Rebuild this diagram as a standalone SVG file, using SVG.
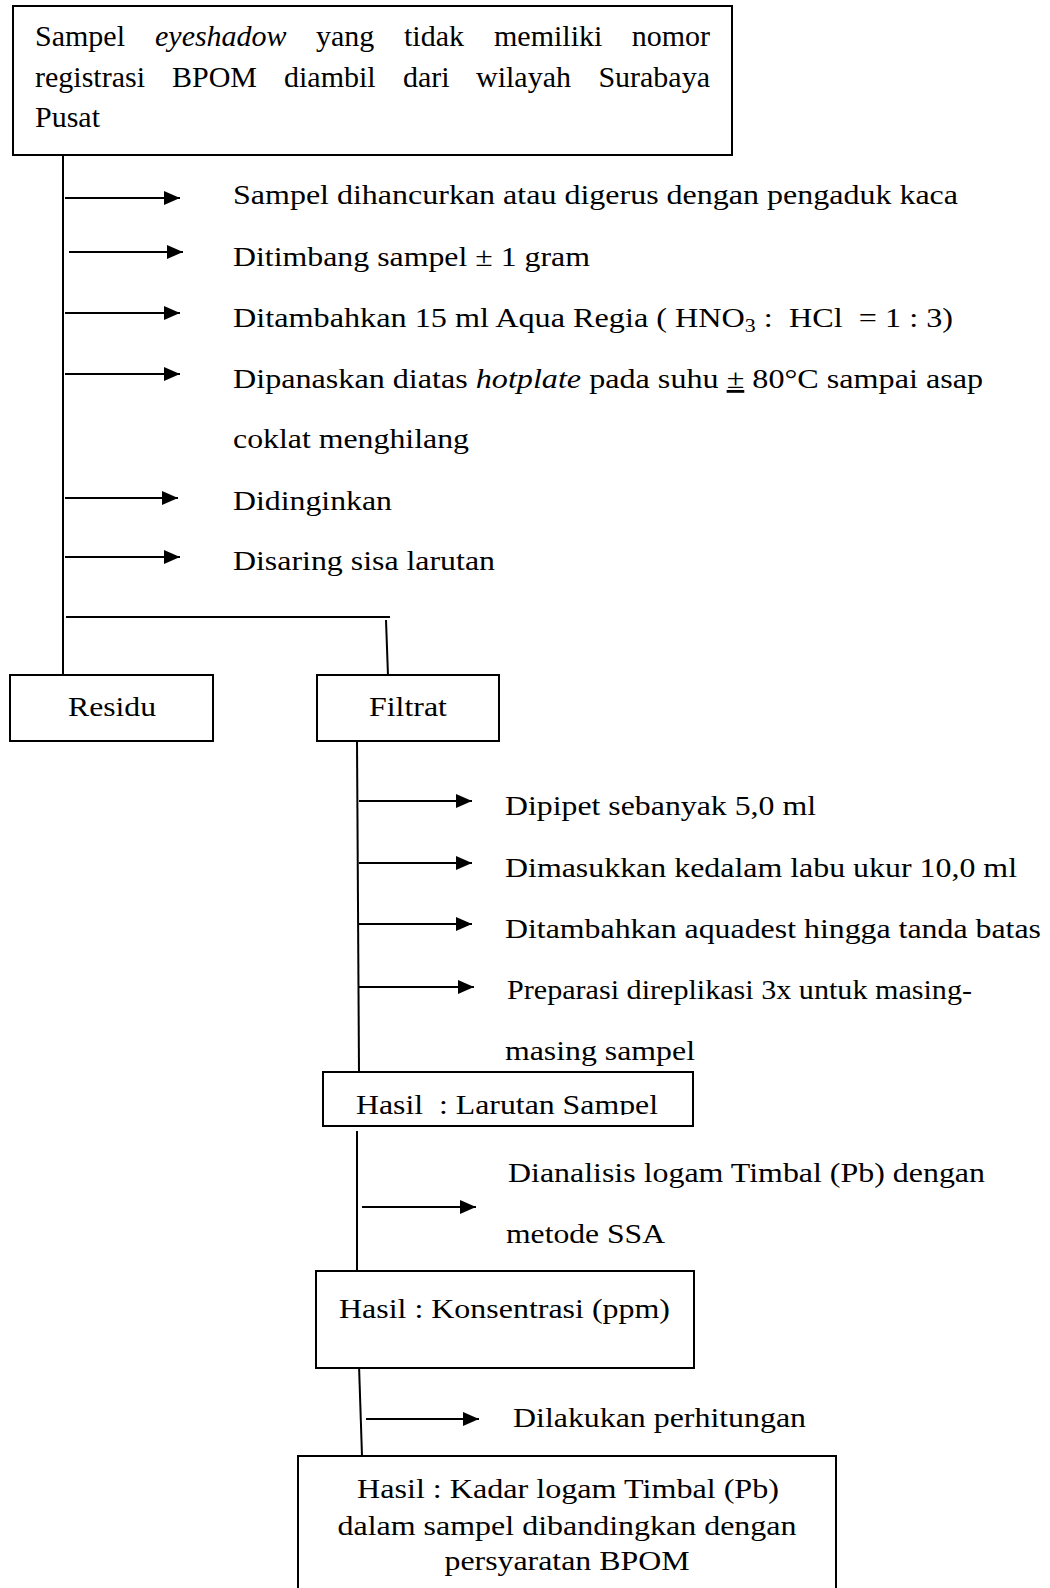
<svg xmlns="http://www.w3.org/2000/svg" width="1050" height="1588" viewBox="0 0 1050 1588">
<style>
.box{fill:#fff;stroke:#000;stroke-width:2}
.ln{fill:none;stroke:#000;stroke-width:2}
.arr{fill:none;stroke:#000;stroke-width:2;marker-end:url(#ah)}
text{font-family:"Liberation Serif","Times New Roman",serif;font-size:28px;fill:#000}
.tb{font-size:30px}
.mid{text-anchor:middle}
.end{text-anchor:end}
.it{font-style:italic}
</style>
<defs>
<marker id="ah" markerUnits="userSpaceOnUse" markerWidth="16" markerHeight="14" refX="16" refY="7" orient="auto">
<path d="M0,0 L16,7 L0,14 z" fill="#000"/>
</marker>
<clipPath id="clipLar"><rect x="320" y="1070" width="380" height="45"/></clipPath>
</defs>
<rect width="1050" height="1588" fill="#fff"/>

<g id="connectors">
<line class="ln" x1="63" y1="155" x2="63" y2="675"/>
<line class="arr" x1="65" y1="198" x2="180" y2="198"/>
<line class="arr" x1="69" y1="252" x2="183" y2="252"/>
<line class="arr" x1="65" y1="313" x2="180" y2="313"/>
<line class="arr" x1="65" y1="374" x2="180" y2="374"/>
<line class="arr" x1="65" y1="498" x2="178" y2="498"/>
<line class="arr" x1="65" y1="557" x2="180" y2="557"/>
<line class="ln" x1="66" y1="617" x2="390" y2="617"/>
<line class="ln" x1="386" y1="620" x2="388" y2="676"/>
<line class="ln" x1="357" y1="741" x2="359" y2="1072"/>
<line class="arr" x1="359" y1="801" x2="472" y2="801"/>
<line class="arr" x1="359" y1="863" x2="472" y2="863"/>
<line class="arr" x1="359" y1="924" x2="472" y2="924"/>
<line class="arr" x1="359" y1="987" x2="474" y2="987"/>
<line class="ln" x1="357" y1="1131" x2="357" y2="1271"/>
<line class="arr" x1="362" y1="1207" x2="476" y2="1207"/>
<line class="ln" x1="359" y1="1365" x2="362" y2="1456"/>
<line class="arr" x1="366" y1="1419" x2="479" y2="1419"/>
</g>

<g id="node-sampel">
<rect class="box" x="13" y="6" width="719" height="149"/>
<text class="tb" x="35" y="46">Sampel</text>
<text class="tb it" x="155" y="46">eyeshadow</text>
<text class="tb" x="316" y="46">yang</text>
<text class="tb" x="404" y="46">tidak</text>
<text class="tb" x="494" y="46">memiliki</text>
<text class="tb end" x="710" y="46">nomor</text>
<text class="tb" x="35" y="87">registrasi</text>
<text class="tb" x="172" y="87">BPOM</text>
<text class="tb" x="284" y="87">diambil</text>
<text class="tb" x="403" y="87">dari</text>
<text class="tb" x="476" y="87">wilayah</text>
<text class="tb end" x="710" y="87">Surabaya</text>
<text class="tb" x="35" y="127">Pusat</text>
</g>

<g id="step-1"><text x="233" y="204" textLength="725" lengthAdjust="spacingAndGlyphs">Sampel dihancurkan atau digerus dengan pengaduk kaca</text></g>
<g id="step-2"><text x="233" y="266" textLength="357" lengthAdjust="spacingAndGlyphs">Ditimbang sampel ± 1 gram</text></g>
<g id="step-3"><text x="233" y="327" textLength="720" lengthAdjust="spacingAndGlyphs" xml:space="preserve">Ditambahkan 15 ml Aqua Regia ( HNO<tspan font-size="19" dy="5">3</tspan><tspan dy="-5"> :  HCl  = 1 : 3)</tspan></text></g>
<g id="step-4">
<text x="233" y="388" textLength="750" lengthAdjust="spacingAndGlyphs">Dipanaskan diatas <tspan class="it">hotplate</tspan> pada suhu <tspan text-decoration="underline">±</tspan> 80°C sampai asap</text>
<text x="233" y="448" textLength="236" lengthAdjust="spacingAndGlyphs">coklat menghilang</text>
</g>
<g id="step-5"><text x="233" y="510" textLength="159" lengthAdjust="spacingAndGlyphs">Didinginkan</text></g>
<g id="step-6"><text x="233" y="570" textLength="262" lengthAdjust="spacingAndGlyphs">Disaring sisa larutan</text></g>

<g id="node-residu">
<rect class="box" x="10" y="675" width="203" height="66"/>
<text class="mid" x="112" y="716" textLength="88" lengthAdjust="spacingAndGlyphs">Residu</text>
</g>
<g id="node-filtrat">
<rect class="box" x="317" y="675" width="182" height="66"/>
<text class="mid" x="408" y="716" textLength="78" lengthAdjust="spacingAndGlyphs">Filtrat</text>
</g>

<g id="step-7"><text x="505" y="815" textLength="311" lengthAdjust="spacingAndGlyphs">Dipipet sebanyak 5,0 ml</text></g>
<g id="step-8"><text x="505" y="877" textLength="512" lengthAdjust="spacingAndGlyphs">Dimasukkan kedalam labu ukur 10,0 ml</text></g>
<g id="step-9"><text x="505" y="938" textLength="536" lengthAdjust="spacingAndGlyphs">Ditambahkan aquadest hingga tanda batas</text></g>
<g id="step-10">
<text x="507" y="999" textLength="465" lengthAdjust="spacingAndGlyphs">Preparasi direplikasi 3x untuk masing-</text>
<text x="505" y="1060" textLength="190" lengthAdjust="spacingAndGlyphs">masing sampel</text>
</g>

<g id="node-larutan">
<rect class="box" x="323" y="1072" width="370" height="54"/>
<text x="356" y="1114" textLength="302" lengthAdjust="spacingAndGlyphs" xml:space="preserve" clip-path="url(#clipLar)">Hasil  : Larutan Sampel</text>
</g>

<g id="step-11">
<text x="508" y="1182" textLength="477" lengthAdjust="spacingAndGlyphs">Dianalisis logam Timbal (Pb) dengan</text>
<text x="506" y="1243" textLength="159" lengthAdjust="spacingAndGlyphs">metode SSA</text>
</g>

<g id="node-konsentrasi">
<rect class="box" x="316" y="1271" width="378" height="97"/>
<text x="339" y="1318" textLength="331" lengthAdjust="spacingAndGlyphs">Hasil : Konsentrasi (ppm)</text>
</g>

<g id="step-12"><text x="513" y="1427" textLength="293" lengthAdjust="spacingAndGlyphs">Dilakukan perhitungan</text></g>

<g id="node-kadar">
<rect class="box" x="298" y="1456" width="538" height="150"/>
<text class="mid" x="568" y="1498" textLength="422" lengthAdjust="spacingAndGlyphs">Hasil : Kadar logam Timbal (Pb)</text>
<text class="mid" x="567" y="1535" textLength="459" lengthAdjust="spacingAndGlyphs">dalam sampel dibandingkan dengan</text>
<text class="mid" x="567" y="1570" textLength="245" lengthAdjust="spacingAndGlyphs">persyaratan BPOM</text>
</g>
</svg>
